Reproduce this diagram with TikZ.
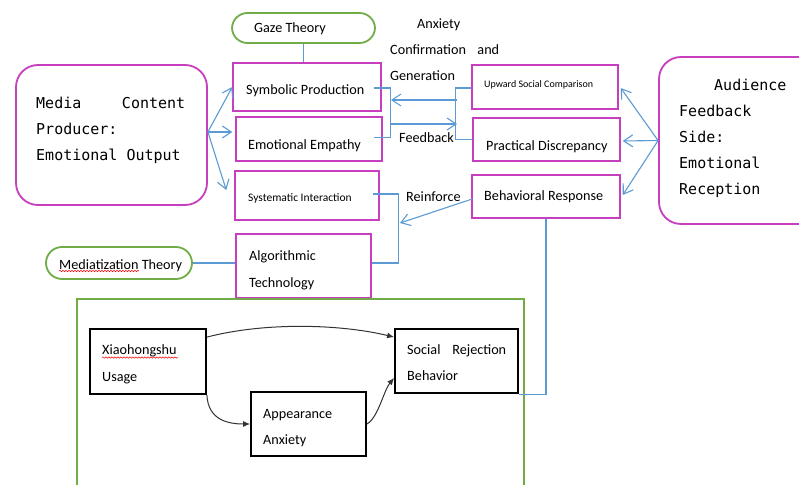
\documentclass[tikz,border=0pt]{standalone}
\usepackage{fontspec}
\setmainfont{Carlito}
\newfontfamily\monofam{DejaVu Sans Mono}
\usetikzlibrary{arrows.meta,fit,calc,decorations.pathmorphing}
\definecolor{magentaC}{RGB}{199,62,190}
\definecolor{blueC}{RGB}{91,155,213}
\definecolor{greenC}{RGB}{112,173,71}

\begin{document}
\begin{tikzpicture}[x=1pt,y=-1pt,
  mbox/.style={draw=magentaC, line width=1.5pt, inner sep=0pt},
  rbox/.style={draw=magentaC, line width=1.8pt, inner sep=0pt, rounded corners=22pt},
  pill/.style={draw=greenC, line width=1.8pt, inner sep=0pt, rounded corners=15.5pt},
  kbox/.style={draw=black, line width=1.8pt, inner sep=0pt},
  frame/.style={draw=greenC, line width=1.4pt, inner sep=0pt},
  bline/.style={draw=blueC, line width=1.1pt},
  barrow/.style={bline, -{Straight Barb[length=9pt,width=12pt]}},
  karrow/.style={draw=black!80, line width=1pt, -{Latex[length=7pt,width=6pt]}},
  lbl/.style={font=\fontsize{14.2}{26}\selectfont, inner sep=0pt, anchor=base west},
  slbl/.style={font=\fontsize{11.5}{14}\selectfont, inner sep=0pt, anchor=base west},
  xslbl/.style={font=\fontsize{10}{12}\selectfont, inner sep=0pt, anchor=base west},
  mono/.style={font=\monofam\fontsize{15}{26}\selectfont, inner sep=0pt, anchor=base west},
  squiggle/.style={draw=red, line width=0.5pt, decorate,
    decoration={snake, amplitude=0.7pt, segment length=3pt}}
]
\useasboundingbox (0,0) rectangle (799,484);
\fill[white] (0,0) rectangle (799,484);
\clip (0,0) rectangle (799,484);

% ---------- boxes ----------
\node[rbox, fit={(16,65) (207,205)}] (media) {};
\node[rbox, fit={(659,57) (835,224)}] (aud) {};
\node[pill, fit={(232,13) (375,43)}] (gaze) {};
\node[pill, rounded corners=16pt, fit={(46,247) (192,279)}] (medt) {};

\node[mbox, fit={(233,63) (381,111)}] (sym) {};
\node[mbox, fit={(236,117) (382,161)}] (emp) {};
\node[mbox, fit={(235,171) (379,220)}] (sys) {};
\node[mbox, fit={(236,234) (371,298)}] (alg) {};
\node[mbox, fit={(472,65) (618,109)}] (up) {};
\node[mbox, fit={(473,118) (620,161)}] (prac) {};
\node[mbox, fit={(472,175) (620,218)}] (beh) {};

\node[frame, fit={(77,299) (524,520)}] (model) {};
\node[kbox, fit={(90,329) (206,394)}] (xhs) {};
\node[kbox, fit={(251,392) (366,456)}] (app) {};
\node[kbox, fit={(395,329) (518,393)}] (soc) {};

% ---------- texts ----------
\node[mono] (mediaT) at (36,108) {\parbox[t]{150pt}{\makebox[149pt][l]{Media\hfill Content}\\Producer:\\Emotional Output}};
\node[mono] (audT) at (679,91) {\parbox[t]{120pt}{\baselineskip=25.8pt\hspace*{35pt}Audience\\Feedback\\Side:\\Emotional\\Reception}};

\node[lbl] (gazeT) at (254,33) {Gaze Theory};
\node[lbl] (medtT) at (59,269) {Mediatization Theory};
\node[lbl] (symT) at (246,95) {Symbolic Production};
\node[lbl] (empT) at (248,149) {Emotional Empathy};
\node[slbl] (sysT) at (248,201) {Systematic Interaction};
\node[lbl] (algT) at (249,260) {\parbox[t]{100pt}{\baselineskip=27pt Algorithmic\\Technology}};
\node[xslbl] (upT) at (484,88) {Upward Social Comparison};
\node[lbl] (pracT) at (486,150) {Practical Discrepancy};
\node[lbl] (behT) at (484,200) {Behavioral Response};

\node[lbl] (anxT) at (417,29) {Anxiety};
\node[lbl] (confT) at (390,55) {\makebox[109pt][l]{Confirmation\hfill and}};
\node[lbl] (genT) at (390,81) {Generation};
\node[lbl] (fbT) at (399,142) {Feedback};
\node[lbl] (reT) at (406,201) {Reinforce};

\node[lbl] (xhsT) at (102,354) {\parbox[t]{100pt}{\baselineskip=27pt Xiaohongshu\\Usage}};
\node[lbl] (appT) at (263,418) {\parbox[t]{100pt}{\baselineskip=26pt Appearance\\Anxiety}};
\node[lbl] (socT) at (407,354) {\parbox[t]{100pt}{\baselineskip=26pt \makebox[99pt][l]{Social\hfill Rejection}\\Behavior}};

% spell-check marks under the two names
\draw[squiggle] (102,357.5) -- (178,357.5);
\draw[squiggle] (59,271) -- (139,271);

% ---------- connectors ----------
% producer fans out to the three production modes
\draw[barrow] ([shift={(0,-3)}]media.east) -- (sym.west);
\draw[barrow] ([shift={(0,-3)}]media.east) -- ([shift={(-3,-7)}]emp.west);
\draw[barrow] ([shift={(0,-3)}]media.east) -- ([shift={(-8,-5.5)}]sys.west);

% theories
\draw[bline] (gaze.south) -- (gaze.south |- sym.north);
\draw[bline] (medt.east) -- (medt.east -| alg.west);

% brackets and the feedback loop between them
\draw[bline] ([shift={(-8,1)}]sym.east) -- ++(17,0) |- ([shift={(-9,-1.5)}]emp.east);
\draw[bline] ([shift={(0,1)}]up.west) -- ++(-16,0) |- (prac.west);
\coordinate (fbL) at (390,124);
\coordinate (fbR) at (457,124);
\coordinate (acL) at (391,100);
\coordinate (acR) at (457,100);
\draw[barrow] (fbL) -- (fbR);
\draw[barrow] (acR) -- (acL);

% audience side
\draw[barrow] (aud.west) -- ([shift={(2,1)}]up.east);
\draw[barrow] (aud.west) -- ([shift={(2,1.5)}]prac.east);
\draw[barrow] (aud.west) -- ([shift={(2,-1.5)}]beh.east);

% reinforcement
\draw[bline] ([shift={(-7,-1.5)}]sys.east) -- ++(26,0) |- ([shift={(0,-3)}]alg.east);
\coordinate (rf) at (400,223);
\draw[barrow] ([shift={(1,2.5)}]beh.west) -- (rf);

% behavioural response feeds the model
\draw[bline] (beh.south) |- ([shift={(0,1)}]soc.south east);

% mediation model
\draw[karrow] ([shift={(0,9)}]xhs.north east) .. controls (265,322) and (340,324) .. ([shift={(0,9)}]soc.north west);
\draw[karrow] (xhs.south east) .. controls (208,420) and (228,424) .. (app.west);
\draw[karrow] (app.east) .. controls (378,418) and (384,390) .. ([shift={(0,17)}]soc.west);
\end{tikzpicture}
\end{document}
